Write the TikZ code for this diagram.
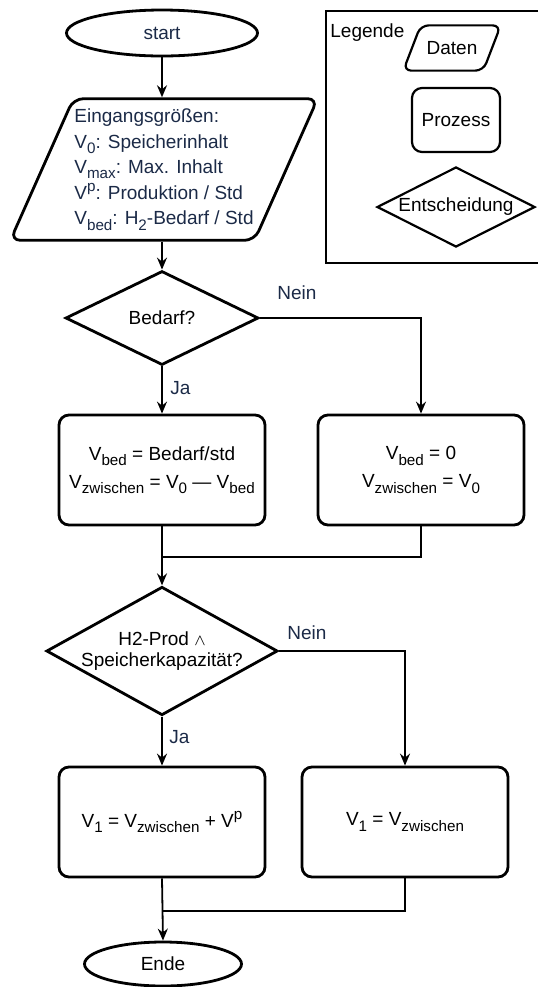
\documentclass[tikz,border=0pt]{standalone}
\usepackage{fontspec}
\setmainfont{Liberation Sans}
\usetikzlibrary{arrows.meta,shapes.geometric}
\definecolor{flowtext}{RGB}{27,42,71}
\definecolor{flowdark}{RGB}{0,0,0}
\newcommand{\vsub}[1]{\raisebox{-0.28em}{\fontsize{7.6}{8}\selectfont #1}}
\newcommand{\vsup}[1]{\raisebox{0.42em}{\fontsize{7.6}{8}\selectfont #1}}
\tikzset{
  flow base/.style={
    draw=flowdark,
    line width=1.4pt,
    inner sep=0pt,
    align=center,
    font=\fontsize{9.5}{11.5}\selectfont,
  },
  flow term/.style={flow base, ellipse, minimum width=95.5pt, minimum height=23pt},
  flow data/.style={flow base, trapezium, trapezium left angle=66,
    trapezium right angle=114, rounded corners=5pt},
  flow proc/.style={flow base, rectangle, rounded corners=5pt,
    minimum width=103pt, minimum height=55pt},
  flow dec/.style={flow base, diamond, aspect=1.8},
  flow arrow/.style={
    -{Stealth[length=6pt,width=5pt,inset=2pt]},
    line width=0.9pt,
    draw=flowdark,
  },
  flow line/.style={line width=0.9pt, draw=flowdark},
  flow label/.style={font=\fontsize{9.5}{11.5}\selectfont, text=flowtext, inner sep=0pt},
  legend frame/.style={line width=0.75pt, draw=flowdark},
}

\begin{document}
\begin{tikzpicture}[x=0.5pt,y=-0.5pt]
  \useasboundingbox (0,0) rectangle (538,987);
  % main flow
  \node[flow term, text=flowtext] (start) at (162,33) {start};
  \node[flow data, text=flowtext, align=left, inner xsep=0.5pt, inner ysep=5pt,
    font=\fontsize{9.5}{12.8}\selectfont] (input) at (164,169.5)
    {Eingangsgrößen:\\V\vsub{0}: Speicherinhalt\\V\vsub{max}: Max. Inhalt\\V\vsup{p}: Produktion / Std\\V\vsub{bed}: H\vsub{2}-Bedarf / Std};
  \node[flow dec, minimum width=96.5pt, minimum height=47pt] (need) at (162,318) {Bedarf?};
  \node[flow proc, font=\fontsize{9.5}{14}\selectfont] (calc) at (162,470)
    {V\vsub{bed} = Bedarf/std\\V\vsub{zwischen} = V\vsub{0} — V\vsub{bed}};
  \node[flow proc, font=\fontsize{9.5}{14}\selectfont] (zero) at (421,470)
    {V\vsub{bed} = 0\\V\vsub{zwischen} = V\vsub{0}};
  \node[flow dec, minimum width=114pt, minimum height=63pt, font=\fontsize{9.5}{10.5}\selectfont] (store) at (162,651)
    {H2-Prod {\footnotesize$\wedge$}\\Speicherkapazität?};
  \node[flow proc] (fill) at (162,822) {V\vsub{1} = V\vsub{zwischen} + V\vsup{p}};
  \node[flow proc] (keep) at (405,822) {V\vsub{1} = V\vsub{zwischen}};
  \node[flow term, minimum width=78.5pt, minimum height=22pt] (ende) at (163,964) {Ende};

  % branch labels
  \node[flow label] (no1) at (297,293) {Nein};
  \node[flow label, anchor=west] (yes1) at (170,388) {Ja};
  \node[flow label] (no2) at (307,633) {Nein};
  \node[flow label, anchor=west] (yes2) at (169,737) {Ja};

  % legend
  \draw[legend frame] (538,11) -- (326,11) -- (326,263) -- (538,263);
  \node[flow label, text=black, anchor=west] (legtitle) at (330,33) {Legende};
  \node[flow base, trapezium, trapezium left angle=69, trapezium right angle=111,
    rounded corners=4pt, line width=1.1pt, inner xsep=3pt, inner ysep=8pt] (legdata) at (452,48) {Daten};
  \node[flow base, rounded corners=5pt, line width=1.1pt,
    minimum width=44pt, minimum height=32pt] (legproc) at (456,120) {Prozess};
  \node[flow base, diamond, aspect=2, line width=1.1pt,
    minimum width=79pt, minimum height=40pt] (legdec) at (456,207) {Entscheidung};

  % connectors
  \draw[flow arrow] (start.south) -- (start.south |- input.north);
  \draw[flow arrow] (need.north |- input.south) -- (need.north);
  \draw[flow arrow] (need.south) -- (calc.north);
  \draw[flow arrow] (need.east) -| (zero.north);
  \coordinate (join1) at (162,557);
  \draw[flow arrow] (calc.south) -- (store.north);
  \draw[flow line] (zero.south) |- (join1);
  \draw[flow arrow] (store.south) -- (fill.north);
  \draw[flow arrow] (store.east) -| (keep.north);
  \coordinate (join2) at (162,911);
  \draw[flow arrow] (fill.south) -- (ende.north);
  \draw[flow line] (keep.south) |- (join2);
\end{tikzpicture}
\end{document}
